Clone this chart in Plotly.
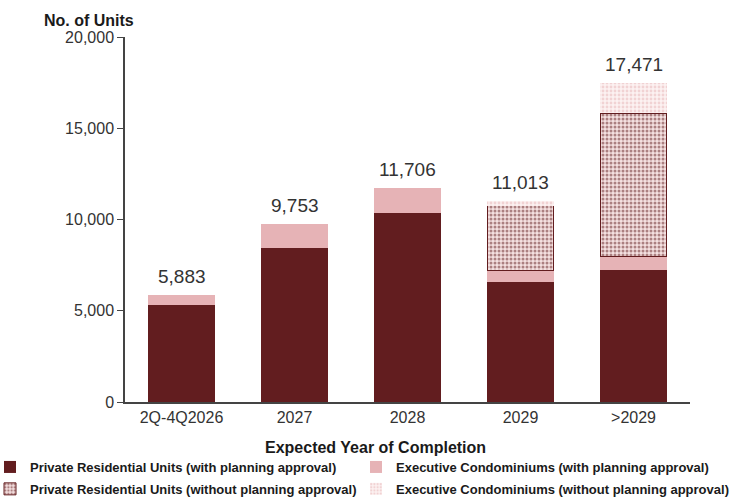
import plotly.graph_objects as go

# Expected completion periods
categories = ["2Q-4Q2026", "2027", "2028", "2029", ">2029"]

# Units in the pipeline, by type and planning status
private_with = [5300, 8440, 10350, 6580, 7230]
ec_with = [583, 1313, 1356, 600, 730]
private_without = [0, 0, 0, 3580, 7860]
ec_without = [0, 0, 0, 253, 1651]

totals = [a + b + c + d for a, b, c, d in zip(private_with, ec_with, private_without, ec_without)]
total_labels = [f"{t:,}" for t in totals]

DARK = "#621d1f"
PINK = "#e6b3b6"
FONT = "Liberation Sans, Arial, sans-serif"
W, H = 741, 499


def nz(values):
    # empty segments are left out so they draw no outline
    return [v if v else None for v in values]


fig = go.Figure()
fig.add_bar(
    name="Private Residential Units (with planning approval)",
    x=categories, y=private_with, legend="legend", legendgroup="a",
    marker=dict(color=DARK, line=dict(width=0)),
)
fig.add_bar(
    name="Executive Condominiums (with planning approval)",
    x=categories, y=ec_with, legend="legend2", legendgroup="b",
    marker=dict(color=PINK, line=dict(width=0)),
)
fig.add_bar(
    name="Private Residential Units (without planning approval)",
    x=categories, y=nz(private_without), legend="legend", legendgroup="c",
    marker=dict(
        color="#f2dada",
        line=dict(color=DARK, width=1),
        pattern=dict(shape=".", fgcolor=DARK, bgcolor="#f4e0e0", size=4, solidity=0.45),
    ),
)
fig.add_bar(
    name="Executive Condominiums (without planning approval)",
    x=categories, y=nz(ec_without), legend="legend2", legendgroup="d",
    marker=dict(
        color="#fbeeee",
        line=dict(width=0),
        pattern=dict(shape=".", fgcolor=PINK, bgcolor="#fcf1f1", size=4, solidity=0.4),
    ),
)

# Total labels above each stack (category axes place annotations by category index)
annotations = [
    dict(
        x=i, y=t, xref="x", yref="y", text=lab, showarrow=False,
        xanchor="center", yanchor="bottom", yshift=6,
        font=dict(size=19, color="#333333", family=FONT),
    )
    for i, (t, lab) in enumerate(zip(totals, total_labels))
]
annotations.append(dict(
    text="<b>No. of Units</b>", xref="paper", yref="paper",
    x=(89 - 125) / (690 - 125), y=1.0, xanchor="center", yanchor="bottom", yshift=6,
    showarrow=False, font=dict(size=16, color="#1a1a1a", family=FONT),
))
annotations.append(dict(
    text="<b>Expected Year of Completion</b>", xref="paper", yref="paper",
    x=(375 - 125) / (690 - 125), y=0, xanchor="center", yanchor="middle", yshift=-45,
    showarrow=False, font=dict(size=16, color="#1a1a1a", family=FONT),
))

legend_common = dict(
    orientation="v",
    traceorder="grouped",
    xanchor="left", yanchor="top",
    itemwidth=30,
    font=dict(size=13, color="#1a1a1a", family=FONT, weight="bold"),
    tracegroupgap=2,
    bgcolor="rgba(0,0,0,0)",
)

# legend positions are given in paper units of the plot area (125..690 px wide, 37..402 px tall)
PW, PH = 690 - 125, 402 - 37
fig.update_layout(
    barmode="stack",
    bargap=0.41,
    width=W, height=H,
    margin=dict(l=125, r=51, t=37, b=97, autoexpand=False),
    paper_bgcolor="white", plot_bgcolor="white",
    font=dict(family=FONT, size=16, color="#333333"),
    showlegend=True,
    legend=dict(legend_common, x=(-10 - 125) / PW, y=(402 - 452) / PH),
    legend2=dict(legend_common, x=(356 - 125) / PW, y=(402 - 452) / PH),
    annotations=annotations,
)

fig.update_xaxes(
    type="category",
    showline=True, linecolor="#444444", linewidth=1.5,
    ticks="", showgrid=False,
    tickfont=dict(size=16, color="#333333"),
)
fig.update_yaxes(
    range=[0, 20000], tickvals=[0, 5000, 10000, 15000, 20000],
    tickformat=",", showline=True, linecolor="#444444", linewidth=1.5,
    ticks="outside", ticklen=6, tickcolor="#444444",
    showgrid=False, zeroline=False,
    tickfont=dict(size=16, color="#333333"),
)

fig.write_html("out.html")
